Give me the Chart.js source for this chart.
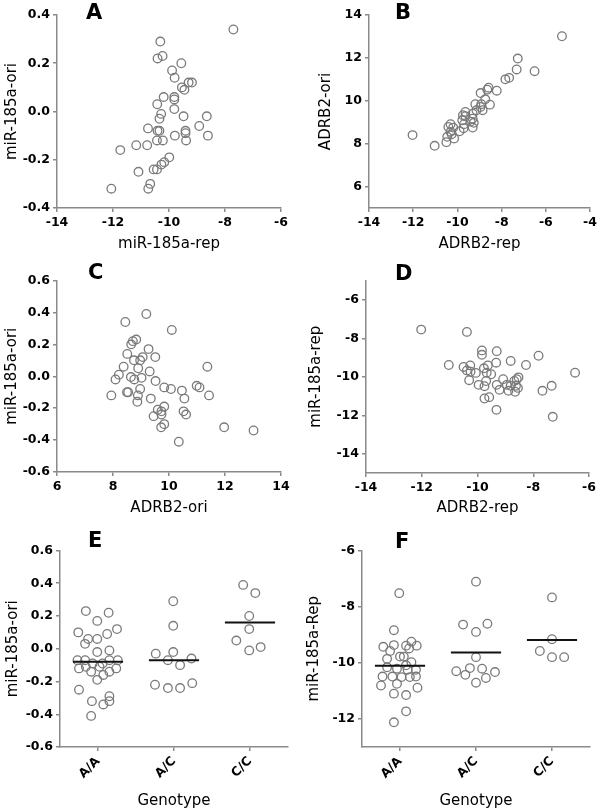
<!DOCTYPE html>
<html>
<head>
<meta charset="utf-8">
<script src="https://cdn.jsdelivr.net/npm/chart.js@4.4.0/dist/chart.umd.min.js"></script>
<style>
  body { margin: 0; background: #fff; }
  #fig { position: relative; width: 600px; height: 812px; }
  .panel { position: absolute; }
  .tag { position: absolute; font: bold 21px 'DejaVu Sans', sans-serif; line-height: 21px; color: #000; }
</style>
</head>
<body>
<div id="fig">
  <canvas id="chartA" class="panel" style="left:0;top:0" width="300" height="270"></canvas>
  <canvas id="chartB" class="panel" style="left:300px;top:0" width="300" height="270"></canvas>
  <canvas id="chartC" class="panel" style="left:0;top:270px" width="300" height="270"></canvas>
  <canvas id="chartD" class="panel" style="left:300px;top:270px" width="300" height="270"></canvas>
  <canvas id="chartE" class="panel" style="left:0;top:540px" width="300" height="272"></canvas>
  <canvas id="chartF" class="panel" style="left:300px;top:540px" width="300" height="272"></canvas>
  <div class="tag" style="left:86px;top:2px">A</div>
  <div class="tag" style="left:395px;top:2px">B</div>
  <div class="tag" style="left:88px;top:262px">C</div>
  <div class="tag" style="left:395px;top:263px">D</div>
  <div class="tag" style="left:88px;top:530px">E</div>
  <div class="tag" style="left:395px;top:531px">F</div>
</div>
<script>
'use strict';

// panel A: miR-185a-rep vs miR-185a-ori
var aX = [-7.70, -10.31, -10.23, -10.41, -9.56, -9.89, -9.80, -9.30, -9.18, -9.54, -9.45, -9.81, -9.81, -10.19, -10.42,
  -9.81, -10.28, -10.34, -9.48, -8.65, -10.75, -8.92, -10.41, -10.34, -9.41, -9.41, -9.79, -8.61, -10.43, -10.22,
  -9.39, -11.17, -10.78, -11.74, -9.99, -10.17, -10.27, -11.09, -10.55, -10.43, -10.67, -10.74, -12.06];
var aY = [0.34, 0.29, 0.23, 0.22, 0.20, 0.17, 0.14, 0.12, 0.12, 0.10, 0.09, 0.06, 0.05, 0.06, 0.03,
  0.01, -0.01, -0.03, -0.02, -0.02, -0.07, -0.06, -0.08, -0.08, -0.08, -0.09, -0.10, -0.10, -0.12, -0.12,
  -0.12, -0.14, -0.14, -0.16, -0.19, -0.21, -0.22, -0.25, -0.24, -0.24, -0.30, -0.32, -0.32];

// panel B: ADRB2-rep vs ADRB2-ori
var bX = [-5.27, -7.27, -7.32, -6.51, -7.66, -7.83, -8.22, -8.59, -8.65, -8.95, -8.74, -9.19, -8.53, -8.96, -8.86,
  -9.14, -8.92, -9.64, -9.75, -9.64, -9.31, -9.31, -9.78, -9.40, -9.26, -9.70, -9.31, -9.72, -10.19, -10.31,
  -10.41, -9.90, -10.26, -10.46, -10.31, -10.15, -12.03, -10.50, -11.03];
var bY = [13.01, 11.97, 11.46, 11.38, 11.07, 11.00, 10.47, 10.61, 10.52, 10.36, 10.07, 9.84, 9.82, 9.71, 9.56,
  9.56, 9.84, 9.48, 9.33, 9.28, 9.40, 9.17, 9.09, 9.03, 8.97, 8.91, 8.75, 8.72, 8.75, 8.91,
  8.78, 8.58, 8.44, 8.32, 8.55, 8.24, 8.40, 8.07, 7.90];

// panel C: ADRB2-ori vs miR-185a-ori
var cX = [9.19, 8.44, 10.10, 8.83, 8.71, 8.65, 9.27, 8.51, 9.06, 9.51, 8.75, 8.97, 8.38, 11.37, 8.90, 9.31,
  8.21, 8.09, 8.64, 8.76, 9.02, 9.52, 10.99, 11.09, 9.83, 10.07, 10.46, 8.97, 8.50, 8.54, 7.94, 11.43,
  8.89, 10.55, 9.35, 8.87, 9.83, 9.60, 9.73, 10.52, 9.45, 10.61, 9.73, 9.83, 9.72, 11.97, 13.02, 10.35];
var cY = [0.39, 0.34, 0.29, 0.23, 0.22, 0.20, 0.17, 0.14, 0.12, 0.12, 0.10, 0.10, 0.06, 0.06, 0.05, 0.03,
  0.01, -0.02, -0.005, -0.02, -0.01, -0.03, -0.06, -0.07, -0.07, -0.08, -0.09, -0.08, -0.10, -0.10, -0.12, -0.12,
  -0.12, -0.14, -0.14, -0.16, -0.19, -0.21, -0.22, -0.22, -0.25, -0.24, -0.24, -0.30, -0.32, -0.32, -0.34, -0.41];

// panel D: ADRB2-rep vs miR-185a-rep
var dX = [-12.02, -10.38, -9.84, -9.31, -9.84, -7.81, -8.81, -9.33, -11.03, -8.26, -10.50, -10.26, -10.38, -9.63,
  -9.77, -9.51, -10.06, -10.25, -6.50, -9.67, -8.53, -9.08, -10.30, -9.69, -8.68, -8.59, -9.96, -9.31,
  -8.95, -9.75, -8.81, -8.62, -9.21, -8.55, -8.89, -8.65, -7.34, -7.67, -9.58, -9.75, -9.32, -7.30];
var dY = [-7.55, -7.67, -8.63, -8.67, -8.86, -8.91, -9.18, -9.27, -9.39, -9.39, -9.49, -9.41, -9.67, -9.41,
  -9.56, -9.87, -9.80, -9.74, -9.79, -9.79, -10.03, -10.13, -10.18, -10.22, -10.22, -10.13, -10.42, -10.42,
  -10.42, -10.49, -10.47, -10.47, -10.68, -10.58, -10.73, -10.78, -10.47, -10.73, -11.06, -11.13, -11.72, -12.08];

// panels E and F: by genotype (jitter = horizontal spread inside the column)
var genotypes = ['A/A', 'A/C', 'C/C'];

var eAAJit = [-0.16, 0.14, -0.01, -0.26, 0.25, 0.12, -0.13, -0.01, -0.17, -0.01, 0.15, -0.27, -0.17, -0.07, 0.06, 0.15,
  0.26, -0.25, -0.16, 0.02, 0.24, -0.09, 0.15, 0.07, -0.01, -0.25, 0.15, -0.08, 0.15, 0.07, -0.09];
var eAAVal = [0.23, 0.22, 0.17, 0.10, 0.12, 0.09, 0.06, 0.06, 0.03, -0.02, -0.01, -0.07, -0.07, -0.09, -0.09, -0.07,
  -0.07, -0.12, -0.11, -0.11, -0.12, -0.14, -0.14, -0.16, -0.19, -0.25, -0.29, -0.32, -0.32, -0.34, -0.41];
var eACJit = [-0.01, -0.01, -0.24, -0.01, -0.08, 0.23, 0.08, -0.25, -0.08, 0.08, 0.24];
var eACVal = [0.29, 0.14, -0.03, -0.02, -0.07, -0.06, -0.10, -0.22, -0.24, -0.24, -0.21];
var eCCJit = [-0.09, 0.07, -0.01, -0.01, -0.18, -0.01, 0.14];
var eCCVal = [0.39, 0.34, 0.20, 0.12, 0.05, -0.01, 0.01];
var eMedian = [-0.08, -0.07, 0.16];

var fAAJit = [-0.01, -0.08, -0.22, -0.08, 0.15, 0.08, 0.22, 0.12, -0.13, 0.00, -0.17, 0.05, 0.15, 0.08, -0.17,
  -0.04, 0.10, 0.21, -0.23, -0.10, 0.02, 0.13, 0.21, -0.25, -0.04, 0.23, -0.08, 0.08, 0.08, -0.08];
var fAAVal = [-7.52, -8.84, -9.43, -9.37, -9.25, -9.39, -9.39, -9.49, -9.58, -9.78, -9.86, -9.78, -9.98, -10.09, -10.16,
  -10.21, -10.25, -10.25, -10.49, -10.49, -10.51, -10.51, -10.49, -10.81, -10.75, -10.89, -11.10, -11.15, -11.73, -12.12];
var fACJit = [0.00, -0.17, 0.15, 0.00, 0.00, -0.26, -0.08, 0.08, -0.14, 0.25, 0.13, 0.00];
var fACVal = [-7.11, -8.64, -8.61, -8.90, -9.80, -10.30, -10.19, -10.21, -10.43, -10.33, -10.54, -10.71];
var fCCJit = [0.00, 0.00, -0.16, 0.00, 0.16];
var fCCVal = [-7.67, -9.16, -9.58, -9.80, -9.80];
var fMedian = [-10.11, -9.63, -9.19];

// tick values
var ticksMirOri = [-0.4, -0.2, 0, 0.2, 0.4];
var ticksMirOriWide = [-0.6, -0.4, -0.2, 0, 0.2, 0.4, 0.6];
var ticksRep14to6 = [-14, -12, -10, -8, -6];
var ticksRep14to4 = [-14, -12, -10, -8, -6, -4];
var ticksAdrbOri = [6, 8, 10, 12, 14];
var ticksMirRepD = [-14, -12, -10, -8, -6];
var ticksMirRepF = [-12, -10, -8, -6];
var ticksGeno = [0, 1, 2];

Chart.defaults.font.family = "'DejaVu Sans', sans-serif";
Chart.defaults.color = '#000';

var axisGray = '#8a8a8a';
var dotGray = '#7a7a7a';
var medianHalf = 0.33;

function oneDec(v) { return v.toFixed(1); }
function plain(v) { return String(v); }
function genoName(v) { return genotypes[v]; }

function pairs(xs, ys) {
  return xs.map(function(x, i) { return {x: x, y: ys[i]}; });
}

function column(idx, jit, vals) {
  return vals.map(function(v, i) { return {x: idx + jit[i], y: v}; });
}

function axis(min, max, ticks, fmt, title, size, rot) {
  return {
    type: 'linear', min: min, max: max,
    afterBuildTicks: function(s) { s.ticks = ticks.map(function(v) { return {value: v}; }); },
    afterFit: function(s) { if (s.isHorizontal()) s.height = size; else s.width = size; },
    grid: {display: true, drawOnChartArea: false, drawTicks: true, tickLength: 4, color: axisGray, lineWidth: 1.5},
    border: {display: true, color: axisGray, width: 1.5},
    ticks: {font: {size: 12.5, weight: 'bold'}, color: '#000', padding: 3,
      minRotation: rot || 0, maxRotation: rot || 0, autoSkip: false, callback: fmt},
    title: {display: true, text: title, font: {size: 15}, color: '#000', padding: 0}
  };
}

function dots(pts) {
  return {type: 'scatter', data: pts, pointStyle: 'circle', pointRadius: 4.3, pointHoverRadius: 4.3,
    pointBorderWidth: 1.3, pointBorderColor: dotGray, pointBackgroundColor: 'rgba(0,0,0,0)', clip: false};
}

function medianLine(idx, m) {
  return {type: 'line', data: [{x: idx - medianHalf, y: m}, {x: idx + medianHalf, y: m}],
    borderColor: '#111', borderWidth: 2, pointRadius: 0, fill: false};
}

function makeChart(id, datasets, xAxis, yAxis, pad) {
  return new Chart(document.getElementById(id), {
    type: 'scatter',
    data: {datasets: datasets},
    options: {
      responsive: false, animation: false,
      layout: {padding: pad},
      plugins: {legend: {display: false}, tooltip: {enabled: false}},
      scales: {x: xAxis, y: yAxis}
    }
  });
}

makeChart('chartA', [dots(pairs(aX, aY))],
  axis(-14, -6, ticksRep14to6, plain, 'miR-185a-rep', 45),
  axis(-0.4, 0.4, ticksMirOri, oneDec, 'miR-185a-ori', 54),
  {left: 3, top: 15, right: 19, bottom: 17});

makeChart('chartB', [dots(pairs(bX, bY))],
  axis(-14, -4, ticksRep14to4, plain, 'ADRB2-rep', 45),
  axis(5, 14, ticksAdrbOri, plain, 'ADRB2-ori', 52),
  {left: 17, top: 15, right: 8, bottom: 17});

makeChart('chartC', [dots(pairs(cX, cY))],
  axis(6, 14, ticksAdrbOri, plain, 'ADRB2-ori', 45),
  axis(-0.6, 0.6, ticksMirOriWide, oneDec, 'miR-185a-ori', 54),
  {left: 3, top: 9, right: 19, bottom: 23});

makeChart('chartD', [dots(pairs(dX, dY))],
  axis(-14, -6, ticksRep14to6, plain, 'ADRB2-rep', 44),
  axis(-15, -5, ticksMirRepD, plain, 'miR-185a-rep', 59),
  {left: 7, top: 9, right: 11, bottom: 23});

makeChart('chartE', [
    medianLine(0, eMedian[0]), medianLine(1, eMedian[1]), medianLine(2, eMedian[2]),
    dots(column(0, eAAJit, eAAVal)), dots(column(1, eACJit, eACVal)), dots(column(2, eCCJit, eCCVal))
  ],
  axis(-0.5, 2.5, ticksGeno, genoName, 'Genotype', 63, 45),
  axis(-0.6, 0.6, ticksMirOriWide, oneDec, 'miR-185a-ori', 56),
  {left: 4, top: 7, right: 12, bottom: 2});

makeChart('chartF', [
    medianLine(0, fMedian[0]), medianLine(1, fMedian[1]), medianLine(2, fMedian[2]),
    dots(column(0, fAAJit, fAAVal)), dots(column(1, fACJit, fACVal)), dots(column(2, fCCJit, fCCVal))
  ],
  axis(-0.5, 2.5, ticksGeno, genoName, 'Genotype', 63, 45),
  axis(-13, -6, ticksMirRepF, plain, 'miR-185a-Rep', 57),
  {left: 5, top: 7, right: 10, bottom: 2});
</script>
</body>
</html>
